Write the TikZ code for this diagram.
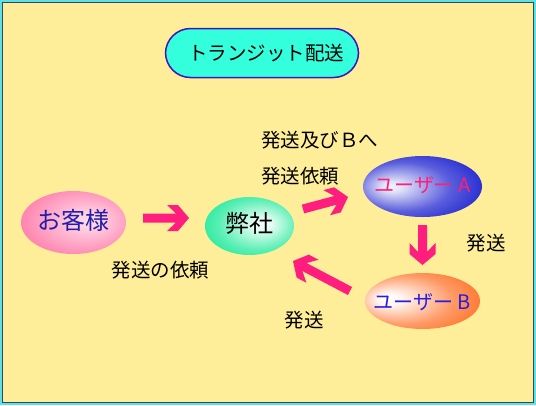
\documentclass[tikz,border=0pt]{standalone}
\usepackage{fontspec}
\setmainfont{Noto Sans CJK JP}
\usetikzlibrary{calc,shapes.geometric}

\definecolor{bgyellow}{RGB}{255,238,153}
\definecolor{framecyan}{RGB}{90,225,235}
\definecolor{framedark}{RGB}{60,70,80}
\definecolor{titlefill}{RGB}{51,255,221}
\definecolor{titleline}{RGB}{68,17,187}
\definecolor{arrowpink}{RGB}{255,30,125}
\definecolor{pinkedge}{RGB}{255,100,155}
\definecolor{greenedge}{RGB}{0,230,140}
\definecolor{blueedge}{RGB}{20,25,205}
\definecolor{orangeedge}{RGB}{255,100,20}
\definecolor{textnavy}{RGB}{35,30,170}
\definecolor{textblue}{RGB}{40,30,225}
\definecolor{textpink}{RGB}{255,30,120}

\pgfdeclareradialshading{pinkball}{\pgfpoint{8bp}{2bp}}{color(0bp)=(white!75!pinkedge); color(5bp)=(white!72!pinkedge); color(22bp)=(white!35!pinkedge); color(38bp)=(pinkedge); color(50bp)=(pinkedge)}
\pgfdeclareradialshading{greenball}{\pgfpoint{8bp}{2bp}}{color(0bp)=(white!95!greenedge); color(5bp)=(white!90!greenedge); color(22bp)=(white!35!greenedge); color(38bp)=(greenedge); color(50bp)=(greenedge)}
\pgfdeclareradialshading{blueball}{\pgfpoint{-14bp}{0bp}}{color(0bp)=(white!95!blueedge); color(4bp)=(white!88!blueedge); color(20bp)=(white!30!blueedge); color(36bp)=(blueedge); color(50bp)=(blueedge)}
\pgfdeclareradialshading{orangeball}{\pgfpoint{-16bp}{2bp}}{color(0bp)=(white); color(5bp)=(white!95!orangeedge); color(22bp)=(white!35!orangeedge); color(38bp)=(orangeedge); color(50bp)=(orangeedge)}

\newcommand\blockarrow[2]{%
  \fill[arrowpink] let \p1=(#1), \p2=(#2),
    \n1={atan2(\y2-\y1,\x2-\x1)}, \n2={veclen(\x2-\x1,\y2-\y1)} in
    {[shift={(\p2)}, rotate=\n1]
      (0pt,0pt) -- (-11pt,13pt) -- (-22pt,13pt) -- (-13pt,4.5pt)
      -- (-\n2,4.5pt) -- (-\n2,-4.5pt) -- (-13pt,-4.5pt)
      -- (-22pt,-13pt) -- (-11pt,-13pt) -- cycle};}

\tikzset{
  ball/.style={ellipse, inner sep=0pt},
  lbl/.style={font=\fontsize{19.5}{20}\selectfont, text=black, inner sep=0pt},
  bigtxt/.style={font=\fontsize{24}{26}\selectfont},
  usertxt/.style={font=\fontsize{20}{21}\selectfont},
}

\begin{document}
\begin{tikzpicture}[x=1pt,y=-1pt]
\useasboundingbox (0,0) rectangle (536,405);
\fill[bgyellow] (0,0) rectangle (536,405);
\draw[framecyan, line width=1.3pt] (0.9,0.9) rectangle (535.1,404.1);
\draw[framedark, line width=0.9pt] (2.6,2.6) rectangle (533.4,402.4);

% title
\node (title) [draw=titleline, line width=1.5pt, fill=titlefill,
  rounded corners=25pt, minimum width=193pt, minimum height=49pt,
  label={[lbl, xshift=4pt]center:トランジット配送}] at (262,53) {};

% entities
\node (cust) [ball, shading=pinkball, minimum width=105pt, minimum height=63pt,
  label={[bigtxt, text=textnavy, yshift=2pt]center:お客様}] at (73.5,222.5) {};
\node (us) [ball, shading=greenball, minimum width=89pt, minimum height=58pt,
  label={[bigtxt, text=black, yshift=3pt]center:弊社}] at (249.5,226) {};
\node (ua) [ball, shading=blueball, minimum width=119pt, minimum height=61pt,
  label={[usertxt, text=textpink, yshift=1pt]center:ユーザー A}] at (422.5,186.5) {};
\node (ub) [ball, shading=orangeball, minimum width=115pt, minimum height=56pt,
  label={[usertxt, text=textblue, yshift=-1pt]center:ユーザー B}] at (422.5,301) {};

% arrow end points
\coordinate (a1s) at (143,218);
\coordinate (a1e) at (189,218);
\coordinate (a2s) at (303,209);
\coordinate (a2e) at (348,197);
\coordinate (a3s) at (422.5,225);
\coordinate (a3e) at (422.5,265);
\coordinate (a4s) at (350,291);
\coordinate (a4e) at (293,261);

\blockarrow{a1s}{a1e}
\blockarrow{a2s}{a2e}
\blockarrow{a3s}{a3e}
\blockarrow{a4s}{a4e}

% labels
\node (l1) [lbl, anchor=west] at (261,140) {発送及びＢへ};
\node (l2) [lbl, anchor=west] at (261,176.5) {発送依頼};
\node (l3) [lbl] at (160.5,270) {発送の依頼};
\node (l4) [lbl] at (486,243.5) {発送};
\node (l5) [lbl] at (304,320) {発送};
\end{tikzpicture}
\end{document}
